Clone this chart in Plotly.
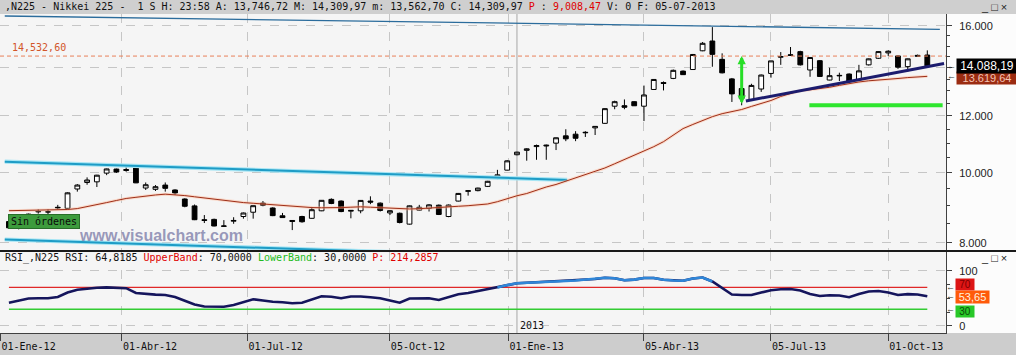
import numpy as np
import pandas as pd
import plotly.graph_objects as go

W, H = 1016, 355

# ---------------- data ----------------
week_dates = pd.date_range("2012-01-06", periods=95, freq="W-FRI")

opens = [8560, 8400, 8530, 8830, 8830, 8960, 8930, 9500, 9700, 9720,
         9995, 10125, 10110, 10200, 9530, 9490, 9620, 9470, 9200, 9000,
         8610, 8620, 8430, 8570, 8700, 8820, 9080, 8940, 8720, 8590,
         8700, 8650, 8860, 9190, 9140, 8850, 8860, 9140, 9080, 8800,
         8790, 8490, 8880, 8930, 9020, 8700, 9140, 9430, 9450, 9580,
         9830, 10090, 10600, 10750, 10880, 10900, 11000, 11260, 11320, 11370,
         11550, 11720, 12380, 12400, 12560, 12380, 13060, 13350, 13530, 13850,
         13920, 14780, 15250, 14380, 13510, 13100, 12630, 13080, 13746.72, 14480,
         14560, 14740, 13900, 14320, 13460, 13640, 13720, 13460, 14130, 14430,
         14680, 14540, 14050, 14520, 14580]
highs = [8600, 8550, 8780, 8900, 8900, 9030, 9400, 9650, 9860, 9940,
         10140, 10140, 10220, 10220, 9700, 9620, 9700, 9490, 9220, 9040,
         8740, 8640, 8600, 8680, 8810, 9010, 9140, 8960, 8800, 8600,
         8720, 8970, 9170, 9220, 9160, 8880, 9170, 9280, 9100, 8880,
         8810, 9010, 9030, 9050, 9040, 9040, 9380, 9460, 9540, 9750,
         10100, 10420, 10700, 10820, 10950, 10950, 11200, 11500, 11430, 11430,
         11620, 12300, 12600, 12650, 12580, 13225, 13500, 13400, 13920, 13880,
         14630, 15200, 15942, 14660, 13550, 13180, 13300, 13700, 14309.97, 14720,
         14960, 14780, 14480, 14350, 14000, 13780, 13750, 14130, 14420, 14760,
         14800, 14560, 14420, 14600, 14800]
lows = [8370, 8350, 8520, 8780, 8760, 8900, 8900, 9420, 9630, 9560,
        9930, 10000, 10040, 9680, 9470, 9440, 9420, 9320, 8960, 8600,
        8520, 8430, 8420, 8500, 8640, 8640, 8990, 8710, 8660, 8330,
        8530, 8640, 8850, 9050, 8820, 8650, 8790, 9050, 8840, 8740,
        8510, 8480, 8870, 8840, 8740, 8680, 9130, 9300, 9430, 9560,
        9800, 10080, 10580, 10400, 10430, 10430, 10760, 11070, 11070, 11220,
        11290, 11700, 12260, 12260, 12400, 11805, 13040, 13020, 13500, 13680,
        13900, 14760, 14045, 13750, 12548, 12415.85, 12600, 12960, 13562.70, 14130,
        14540, 14100, 13600, 13600, 13450, 13420, 13330, 13440, 14100, 14400,
        14540, 13950, 13830, 14500, 14050]
closes = [8390, 8500, 8766, 8841, 8831, 8947, 9384, 9620, 9777, 9929,
          10129, 10030, 10083, 9688, 9630, 9570, 9520, 9380, 8990, 8611,
          8593, 8440, 8440, 8590, 8798, 9006, 9020, 8724, 8670, 8566,
          8555, 8891, 9162, 9070, 8839, 8871, 9159, 9110, 8870, 8863,
          8534, 9002, 8960, 9030, 8757, 9024, 9366, 9446, 9527, 9737,
          9940, 10395, 10688, 10801, 10913, 10926, 11191, 11153, 11173, 11385,
          11606, 12283, 12560, 12338, 12397, 12833, 13485, 13316, 13884, 13694,
          14607, 15138, 14612, 13774, 12877, 12686, 13230, 13677, 14309.97, 14506,
          14589, 14130, 14467, 13615, 13650, 13660, 13389, 13861, 14404, 14742,
          14760, 14024, 14405, 14562, 14088.19]
moving_avg = [8863, 8866, 8869, 8872, 8877, 8883, 8897, 8923, 8974, 9035,
              9096, 9157, 9216, 9251, 9290, 9320, 9344, 9332, 9302, 9266,
              9231, 9195, 9157, 9119, 9096, 9076, 9055, 9026, 9000, 8972,
              8957, 8952, 8946, 8940, 8952, 8963, 8974, 8963, 8946, 8926,
              8909, 8912, 8920, 8932, 8949, 8969, 8989, 9006, 9026, 9055,
              9122, 9216, 9296, 9364, 9470, 9561, 9638, 9737, 9847, 9958,
              10047, 10160, 10298, 10434, 10575, 10718, 10876, 11052, 11291, 11524,
              11677, 11827, 11972, 12087, 12164, 12250, 12372, 12492, 12608, 12771,
              12894, 13010, 13047, 13089, 13152, 13232, 13317, 13377, 13428, 13454,
              13484, 13527, 13566, 13601, 13619.64]
rsi_values = [42.0, 45.1, 49.5, 50.0, 50.0, 52.4, 60.5, 65.5, 67.5, 69.3,
              69.9, 69.6, 68.4, 59.6, 57.5, 56.7, 56.0, 52.4, 45.5, 38.7,
              35.1, 34.7, 34.7, 37.8, 43.3, 48.2, 46.0, 43.6, 42.7, 40.9,
              42.0, 47.8, 53.8, 52.7, 50.2, 53.3, 53.3, 51.8, 50.2, 46.0,
              42.0, 49.6, 50.0, 50.0, 46.9, 52.0, 57.3, 59.6, 62.9, 66.4,
              69.6, 74.2, 77.3, 78.4, 79.3, 80.0, 80.9, 81.5, 82.4, 83.6,
              85.1, 87.3, 86.4, 82.7, 84.0, 86.9, 86.9, 83.6, 82.4, 82.0,
              86.0, 87.8, 80.5, 68.7, 56.9, 56.0, 56.0, 60.5, 64.7, 66.4,
              66.9, 64.2, 57.8, 54.2, 55.6, 55.1, 52.0, 57.8, 62.4, 63.3,
              60.5, 56.0, 57.5, 56.9, 53.65]
rsi_upper, rsi_lower = 70, 30

# drawn lines (date, value)
upper_thin_dates, upper_thin_vals = ["2012-01-03", "2013-11-03"], [16520, 15832]
cyan_top_dates, cyan_top_vals = ["2012-01-03", "2013-02-09"], [10366, 9778]
cyan_bot_dates, cyan_bot_vals = ["2012-01-03", "2013-02-09"], [8083, 7624]
support_dates, support_vals = ["2013-06-17", "2013-11-06"], [12588, 14192]
green_h_dates, green_h_val = ["2013-08-01 12:00", "2013-11-05"], 12415.85
arrow_date, arrow_top, arrow_bottom = "2013-06-14", 14532.60, 12415.85
resistance_level = 14532.60
last_close, last_ma, last_rsi = 14088.19, 13619.64, 53.65

tick_dates = ["2011-12-31", "2012-03-27", "2012-06-25", "2012-10-05",
              "2012-12-29", "2013-04-05", "2013-07-05", "2013-09-27"]
tick_labels = ["01-Ene-12", "01-Abr-12", "01-Jul-12", "05-Oct-12",
               "01-Ene-13", "05-Abr-13", "05-Jul-13", "01-Oct-13"]
year_break_date = "2013-01-04"
price_ticks = [8000, 10000, 12000, 14000, 16000]
price_tick_text = ["8.000", "10.000", "12.000", "", "16.000"]
price_minor = [8500, 9000, 9500, 10500, 11000, 11500, 12500, 13000, 13500, 14500, 15000, 15500]

X_RANGE = ["2011-12-30 14:24", "2013-11-07 09:36"]

def px(x):
    return x / W

def py(y):
    return 1 - y / H

X_DOM = [0, px(946)]
Y_MAIN = [py(250), py(14)]
Y_RSI = [py(333), py(252)]

MONO = "DejaVu Sans Mono"
SANS = "Liberation Sans"

fig = go.Figure()

# upper thin line
fig.add_trace(go.Scatter(x=upper_thin_dates, y=upper_thin_vals, mode="lines",
                         line=dict(color="#2b6c9c", width=1.3), xaxis="x", yaxis="y", hoverinfo="skip"))
# cyan channel
for dts, vals in [(cyan_top_dates, cyan_top_vals), (cyan_bot_dates, cyan_bot_vals)]:
    fig.add_trace(go.Scatter(x=dts, y=vals, mode="lines", line=dict(color="#a6e5f4", width=4.2),
                             xaxis="x", yaxis="y", hoverinfo="skip"))
    fig.add_trace(go.Scatter(x=dts, y=vals, mode="lines", line=dict(color="#1e9cc6", width=2),
                             xaxis="x", yaxis="y", hoverinfo="skip"))
# resistance dashed
fig.add_trace(go.Scatter(x=X_RANGE, y=[resistance_level, resistance_level], mode="lines",
                         line=dict(color="#e8805a", width=1, dash="4px,3px"), xaxis="x", yaxis="y", hoverinfo="skip"))
# moving average
fig.add_trace(go.Scatter(x=week_dates, y=moving_avg, mode="lines", line=dict(color="rgba(255,185,150,0.45)", width=3),
                         xaxis="x", yaxis="y", hoverinfo="skip"))
fig.add_trace(go.Scatter(x=week_dates, y=moving_avg, mode="lines", line=dict(color="#9e2e18", width=1),
                         xaxis="x", yaxis="y", hoverinfo="skip"))
# candles
fig.add_trace(go.Candlestick(x=week_dates, open=opens, high=highs, low=lows, close=closes,
                             increasing=dict(line=dict(color="black", width=1), fillcolor="white"),
                             decreasing=dict(line=dict(color="black", width=1), fillcolor="black"),
                             whiskerwidth=0, xaxis="x", yaxis="y", hoverinfo="skip"))
# support trendline
fig.add_trace(go.Scatter(x=support_dates, y=support_vals, mode="lines", line=dict(color="#1c1c6e", width=3),
                         xaxis="x", yaxis="y", hoverinfo="skip"))
# green horizontal
fig.add_trace(go.Scatter(x=green_h_dates, y=[green_h_val, green_h_val], mode="lines",
                         line=dict(color="#2ee62e", width=4), xaxis="x", yaxis="y", hoverinfo="skip"))

# RSI
fig.add_trace(go.Scatter(x=[week_dates[0], week_dates[-1]], y=[rsi_upper, rsi_upper], mode="lines",
                         line=dict(color="#e02828", width=1.2), xaxis="x2", yaxis="y2", hoverinfo="skip"))
fig.add_trace(go.Scatter(x=[week_dates[0], week_dates[-1]], y=[rsi_lower, rsi_lower], mode="lines",
                         line=dict(color="#33cc33", width=1.5), xaxis="x2", yaxis="y2", hoverinfo="skip"))
fig.add_trace(go.Scatter(x=week_dates, y=rsi_values, mode="lines", line=dict(color="#15155c", width=2.6),
                         xaxis="x2", yaxis="y2", hoverinfo="skip"))
rsi_high = [v if 50 <= i <= 72 else None for i, v in enumerate(rsi_values)]
fig.add_trace(go.Scatter(x=week_dates, y=rsi_high, mode="lines", line=dict(color="#2f86d8", width=2.6),
                         xaxis="x2", yaxis="y2", hoverinfo="skip", connectgaps=False))

grid = "#c6c6c6"
fig.update_layout(
    width=W, height=H, margin=dict(l=0, r=0, t=0, b=0),
    paper_bgcolor="#fcfcfc", plot_bgcolor="#f5f5f5", showlegend=False,
    xaxis=dict(domain=X_DOM, range=X_RANGE, type="date", anchor="y", showticklabels=False,
               tickmode="array", tickvals=tick_dates, ticks="", showgrid=True, gridcolor=grid,
               griddash="dash", gridwidth=1, zeroline=False, showline=False,
               rangeslider=dict(visible=False)),
    yaxis=dict(domain=Y_MAIN, type="log", range=[3.89299, 4.22077], side="right", anchor="x",
               tickmode="array", tickvals=price_ticks, ticktext=price_tick_text,
               ticks="outside", ticklen=5, tickcolor="#404040", showline=True, linecolor="#404040",
               showgrid=True, gridcolor=grid, griddash="dash", zeroline=False,
               tickfont=dict(family=SANS, size=11, color="#222"), ticklabelstandoff=5,
               minor=dict(tickmode="array", tickvals=price_minor, ticks="outside", ticklen=3,
                          tickcolor="#404040", showgrid=False)),
    xaxis2=dict(domain=X_DOM, range=X_RANGE, type="date", anchor="y2", tickmode="array",
                tickvals=tick_dates, ticktext=tick_labels, ticks="outside", ticklen=7,
                tickcolor="#404040", showgrid=True, gridcolor=grid, griddash="dash",
                zeroline=False, showline=True, linecolor="#404040", ticklabelshift=28,
                ticklabelstandoff=-3, tickfont=dict(family=MONO, size=10, color="#111")),
    yaxis2=dict(domain=Y_RSI, range=[-13.09, 134.18], side="right", anchor="x2",
                tickmode="array", tickvals=[0, 100], ticktext=["0", "100"], ticks="outside",
                ticklen=5, tickcolor="#404040", showline=True, linecolor="#404040",
                showgrid=True, gridcolor=grid, griddash="dash", zeroline=False,
                tickfont=dict(family=SANS, size=11, color="#222"), ticklabelstandoff=5,
                minor=dict(tickmode="array", tickvals=[25, 50, 75], ticks="outside", ticklen=3,
                           tickcolor="#404040", showgrid=False)),
)

shapes = [
    # title bar
    dict(type="rect", xref="paper", yref="paper", x0=0, x1=1, y0=py(14), y1=1,
         fillcolor="#cfcfcf", line=dict(width=0), layer="below"),
    # date strip
    dict(type="rect", xref="paper", yref="paper", x0=0, x1=1, y0=0, y1=py(333),
         fillcolor="#cdcdcd", line=dict(width=0), layer="below"),
    # pane separator
    dict(type="line", xref="paper", yref="paper", x0=0, x1=1, y0=py(251), y1=py(251),
         line=dict(color="#1a1a1a", width=2)),
    # year break line
    dict(type="line", xref="x", yref="paper", x0=year_break_date, x1=year_break_date,
         y0=py(333), y1=py(14), line=dict(color="#a8a8a8", width=1), layer="below"),
]
fig.update_layout(shapes=shapes)

ann = []
# header
ann.append(dict(xref="paper", yref="paper", x=px(3), y=py(7), xanchor="left", yanchor="middle",
                showarrow=False, font=dict(family=MONO, size=10, color="#111"),
                text=",N225 - Nikkei 225 -\u00a0\u00a01 S H: 23:58 A: 13,746,72 M: 14,309,97 m: 13,562,70 "
                     "C: 14,309,97 <span style='color:#e00000'>P</span> : <span style='color:#e00000'>9,008,47</span> "
                     "V: 0 F: 05-07-2013"))
ann.append(dict(xref="paper", yref="paper", x=px(3), y=py(257.5), xanchor="left", yanchor="middle",
                showarrow=False, font=dict(family=MONO, size=10, color="#111"),
                text="RSI_,N225 RSI: 64,8185 <span style='color:#e00000'>UpperBand</span>: 70,0000 "
                     "<span style='color:#22bb22'>LowerBand</span>: 30,0000 "
                     "<span style='color:#e00000'>P: 214,2857</span>"))
# window buttons
for yy in (7, 258):
    ann.append(dict(xref="paper", yref="paper", x=px(994), y=py(yy), xanchor="center", yanchor="middle",
                    showarrow=False, font=dict(family=SANS, size=11, color="#222"), text="_ □ ×"))
# resistance label
ann.append(dict(xref="paper", yref="y", x=px(10), y=np.log10(resistance_level), xanchor="left",
                yanchor="bottom", yshift=1, showarrow=False,
                font=dict(family=MONO, size=10, color="#d2562a"), text="14,532,60"))
# green arrow
ann.append(dict(xref="x", yref="y", axref="x", ayref="y", x=arrow_date, y=np.log10(arrow_top),
                ax=arrow_date, ay=np.log10(arrow_bottom), text="", showarrow=True,
                arrowhead=2, startarrowhead=2, arrowside="end+start", arrowwidth=3,
                arrowsize=0.55, startarrowsize=0.55, arrowcolor="#27de27", standoff=0, startstandoff=0))
# Sin ordenes box
ann.append(dict(xref="paper", yref="paper", x=px(44), y=py(221.5), xanchor="center", yanchor="middle",
                showarrow=False, text="Sin órdenes", font=dict(family=MONO, size=10, color="#0a0a0a"),
                bgcolor="#3d9b3d", bordercolor="#2a6e2a", borderwidth=1, borderpad=1, width=68))
# watermark
ann.append(dict(xref="paper", yref="paper", x=px(161), y=py(235), xanchor="center", yanchor="middle",
                showarrow=False, text="<b>www.visualchart.com</b>",
                font=dict(family=SANS, size=16, color="rgba(135,135,175,0.85)")))
# right price labels
ann.append(dict(xref="paper", yref="y", x=px(956), y=np.log10(last_ma), xanchor="left", yanchor="middle",
                yshift=-2, showarrow=False, text="13.619,64", font=dict(family=SANS, size=11, color="#f3c2b2"),
                bgcolor="#9b2c12", borderpad=0, width=60))
ann.append(dict(xref="paper", yref="y", x=px(956), y=np.log10(last_close), xanchor="left", yanchor="middle",
                showarrow=False, text="14.088,19", font=dict(family=SANS, size=12, color="#ffffff"),
                bgcolor="#000000", borderpad=0, width=60))
for v in (last_close, last_ma):
    ann.append(dict(xref="paper", yref="y", x=px(951), y=np.log10(v), xanchor="center", yanchor="middle",
                    showarrow=False, text="←", font=dict(family=SANS, size=9, color="#333")))
# RSI labels
ann.append(dict(xref="paper", yref="y2", x=px(955), y=rsi_upper, xanchor="left", yanchor="middle",
                yshift=3, showarrow=False, text="70", font=dict(family=SANS, size=10, color="#7a0000"),
                bgcolor="#dd1515", borderpad=0, width=18))
ann.append(dict(xref="paper", yref="y2", x=px(955), y=rsi_lower, xanchor="left", yanchor="middle",
                yshift=-2, showarrow=False, text="30", font=dict(family=SANS, size=10, color="#0a4a0a"),
                bgcolor="#28c828", borderpad=0, width=18))
ann.append(dict(xref="paper", yref="y2", x=px(955), y=last_rsi, xanchor="left", yanchor="middle",
                yshift=-1, showarrow=False, text="53,65", font=dict(family=SANS, size=11, color="#fff2e0"),
                bgcolor="#ff5a0a", borderpad=0, width=33))
for v in (rsi_upper, last_rsi, rsi_lower):
    ann.append(dict(xref="paper", yref="y2", x=px(950.5), y=v, xanchor="center", yanchor="middle",
                    showarrow=False, text="←", font=dict(family=SANS, size=9, color="#333")))
# year label
ann.append(dict(xref="x2", yref="y2", x=year_break_date, y=-13.09, xanchor="left", yanchor="bottom",
                xshift=1, showarrow=False, text="2013", font=dict(family=MONO, size=10, color="#111")))
fig.update_layout(annotations=ann)

fig.write_html("out.html")
